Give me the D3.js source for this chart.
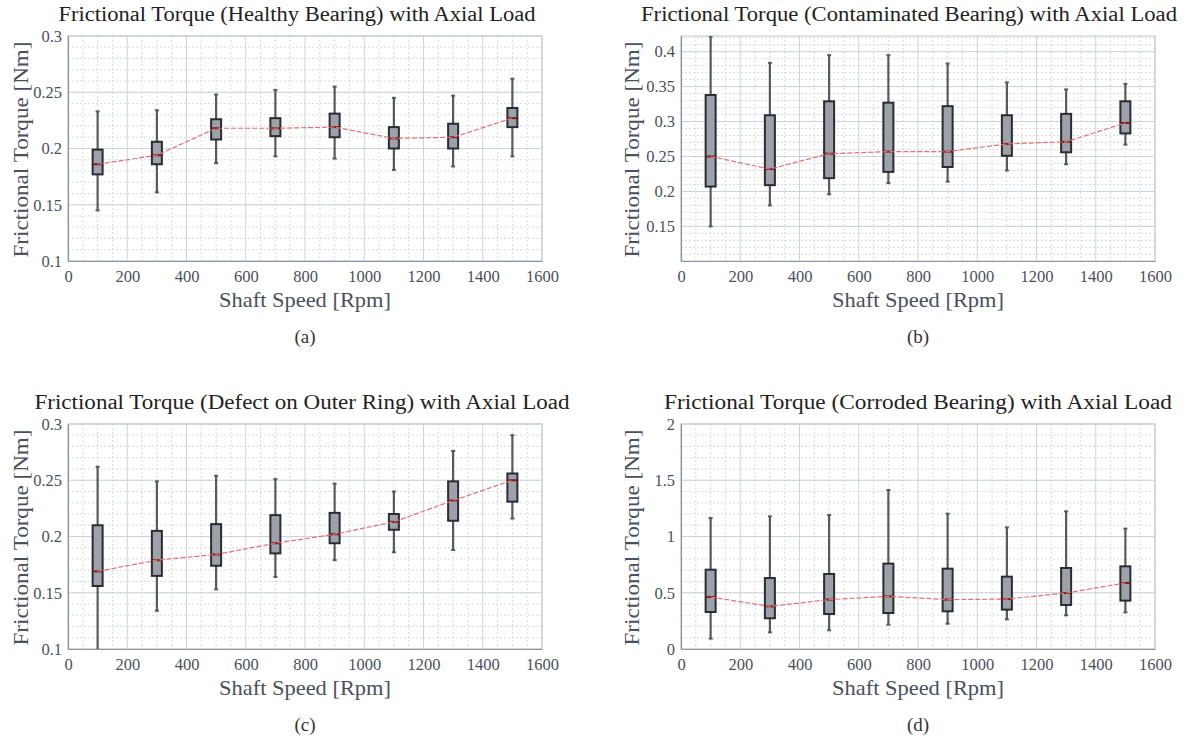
<!DOCTYPE html>
<html>
<head>
<meta charset="utf-8">
<script src="https://cdn.jsdelivr.net/npm/d3@7"></script>
<style>
  body { margin: 0; background: #fff; }
  text { font-family: "Liberation Serif", "Times New Roman", serif; }
</style>
</head>
<body>
<div id="chart"></div>
<script>
// shaft speeds (x positions of the boxes)
var speeds = [100, 300, 500, 700, 900, 1100, 1300, 1500];
var xTicks = [0, 200, 400, 600, 800, 1000, 1200, 1400, 1600];

// box stats per speed: [lower whisker, q1, median, q3, upper whisker]
var healthyStats = [
  [0.145, 0.177, 0.186, 0.199, 0.233],
  [0.161, 0.186, 0.194, 0.206, 0.234],
  [0.187, 0.208, 0.218, 0.226, 0.248],
  [0.193, 0.211, 0.218, 0.227, 0.252],
  [0.191, 0.210, 0.219, 0.231, 0.255],
  [0.181, 0.200, 0.209, 0.219, 0.245],
  [0.184, 0.200, 0.210, 0.222, 0.247],
  [0.193, 0.219, 0.227, 0.236, 0.262]
];
var contaminatedStats = [
  [0.150, 0.207, 0.250, 0.338, 0.422],
  [0.180, 0.209, 0.232, 0.309, 0.384],
  [0.196, 0.219, 0.254, 0.329, 0.395],
  [0.212, 0.228, 0.257, 0.327, 0.395],
  [0.214, 0.235, 0.257, 0.322, 0.383],
  [0.230, 0.251, 0.268, 0.309, 0.356],
  [0.239, 0.256, 0.271, 0.311, 0.346],
  [0.267, 0.283, 0.298, 0.329, 0.354]
];
var outerRingStats = [
  [0.095, 0.156, 0.169, 0.210, 0.262],
  [0.134, 0.165, 0.179, 0.205, 0.249],
  [0.153, 0.174, 0.184, 0.211, 0.254],
  [0.164, 0.185, 0.194, 0.219, 0.251],
  [0.179, 0.194, 0.202, 0.221, 0.247],
  [0.186, 0.206, 0.213, 0.220, 0.240],
  [0.188, 0.214, 0.232, 0.249, 0.276],
  [0.216, 0.231, 0.250, 0.256, 0.290]
];
var corrodedStats = [
  [0.092, 0.329, 0.462, 0.705, 1.164],
  [0.148, 0.273, 0.379, 0.631, 1.179],
  [0.166, 0.311, 0.439, 0.667, 1.191],
  [0.216, 0.320, 0.468, 0.759, 1.413],
  [0.225, 0.335, 0.439, 0.714, 1.203],
  [0.264, 0.350, 0.444, 0.643, 1.081],
  [0.300, 0.391, 0.498, 0.720, 1.224],
  [0.326, 0.430, 0.587, 0.735, 1.070]
];

var yTicksA = [0.1, 0.15, 0.2, 0.25, 0.3];
var yTicksB = [0.15, 0.2, 0.25, 0.3, 0.35, 0.4];
var yTicksC = [0.1, 0.15, 0.2, 0.25, 0.3];
var yTicksD = [0, 0.5, 1, 1.5, 2];

var svg = d3.select("#chart")
  .append("svg")
    .attr("width", 1203)
    .attr("height", 736);

function drawPanel(p) {
  var width = 474, height = 225;
  var g = svg.append("g")
    .attr("transform", "translate(" + p.left + "," + p.top + ")");

  var x = d3.scaleLinear().domain([0, 1600]).range([0, width]);
  var y = d3.scaleLinear().domain(p.yDomain).range([height, 0]);

  // minor grid (dotted)
  g.append("g").selectAll("line")
    .data(d3.range(50, 1600, 50).filter(function(v) { return v % 200 != 0; }))
    .enter().append("line")
      .attr("x1", function(d) { return x(d); })
      .attr("x2", function(d) { return x(d); })
      .attr("y1", 0).attr("y2", height)
      .style("stroke", "#d6dae3")
      .style("stroke-dasharray", "2,2");
  var yMinor = d3.range(Math.ceil(p.yDomain[0] / p.minorStep - 1e-6), Math.floor(p.yDomain[1] / p.minorStep + 1e-6) + 1)
    .map(function(k) { return k * p.minorStep; });
  g.append("g").selectAll("line")
    .data(yMinor)
    .enter().append("line")
      .attr("x1", 0).attr("x2", width)
      .attr("y1", function(d) { return y(d); })
      .attr("y2", function(d) { return y(d); })
      .style("stroke", "#d6dae3")
      .style("stroke-dasharray", "2,2");

  // major grid
  g.append("g").selectAll("line")
    .data(xTicks)
    .enter().append("line")
      .attr("x1", function(d) { return x(d); })
      .attr("x2", function(d) { return x(d); })
      .attr("y1", 0).attr("y2", height)
      .style("stroke", "#cdd2dc");
  g.append("g").selectAll("line")
    .data(p.yTicks)
    .enter().append("line")
      .attr("x1", 0).attr("x2", width)
      .attr("y1", function(d) { return y(d); })
      .attr("y2", function(d) { return y(d); })
      .style("stroke", "#cdd2dc");

  // frame
  g.append("rect")
    .attr("width", width).attr("height", height)
    .style("fill", "none").style("stroke", "#c3c8d2");

  // axes
  var xAxis = g.append("g")
    .attr("transform", "translate(0," + height + ")")
    .call(d3.axisBottom(x).tickValues(xTicks).tickSize(0).tickPadding(9)
      .tickFormat(d3.format("d")));
  var yAxis = g.append("g")
    .call(d3.axisLeft(y).tickValues(p.yTicks).tickSize(0).tickPadding(6)
      .tickFormat(function(d) { return String(+d.toFixed(2)); }));
  [xAxis, yAxis].forEach(function(a) {
    a.attr("font-family", null);
    a.select(".domain").style("stroke", "#8e95a3").style("stroke-width", 1.2);
    a.selectAll("text")
      .style("font-family", "'Liberation Serif', serif")
      .style("font-size", "16.5px")
      .style("fill", "#4a505c");
  });

  var clip = "clip-" + p.tag;
  g.append("clipPath").attr("id", clip)
    .append("rect").attr("width", width).attr("height", height);
  var plot = g.append("g").attr("clip-path", "url(#" + clip + ")");

  var bw = 10, cap = 3;
  var boxes = plot.selectAll(".box")
    .data(p.stats)
    .enter().append("g")
      .attr("class", "box")
      .attr("transform", function(d, i) { return "translate(" + x(speeds[i]) + ",0)"; });

  boxes.append("line")
    .attr("y1", function(d) { return y(d[0]); })
    .attr("y2", function(d) { return y(d[4]); })
    .style("stroke", "#555a62").style("stroke-width", 2.2);
  boxes.append("line")
    .attr("x1", -cap / 2 - 0.5).attr("x2", cap / 2 + 0.5)
    .attr("y1", function(d) { return y(d[0]); })
    .attr("y2", function(d) { return y(d[0]); })
    .style("stroke", "#555a62").style("stroke-width", 2);
  boxes.append("line")
    .attr("x1", -cap / 2 - 0.5).attr("x2", cap / 2 + 0.5)
    .attr("y1", function(d) { return y(d[4]); })
    .attr("y2", function(d) { return y(d[4]); })
    .style("stroke", "#555a62").style("stroke-width", 2);
  boxes.append("rect")
    .attr("x", -bw / 2).attr("width", bw)
    .attr("y", function(d) { return y(d[3]); })
    .attr("height", function(d) { return y(d[1]) - y(d[3]); })
    .style("fill", "#9da1a9")
    .style("stroke", "#2a2c31").style("stroke-width", 2);

  // median trend
  var line = d3.line()
    .x(function(d, i) { return x(speeds[i]); })
    .y(function(d) { return y(d[2]); });
  plot.append("path")
    .datum(p.stats)
    .attr("d", line)
    .style("fill", "none")
    .style("stroke", "#e07272")
    .style("stroke-width", 1.2)
    .style("stroke-dasharray", "5,2");

  boxes.append("line")
    .attr("x1", -bw / 2).attr("x2", bw / 2)
    .attr("y1", function(d) { return y(d[2]); })
    .attr("y2", function(d) { return y(d[2]); })
    .style("stroke", "#7a1f22").style("stroke-width", 2);

  // titles and labels
  g.append("text")
    .attr("x", p.titleX).attr("y", -15)
    .attr("text-anchor", "middle")
    .attr("textLength", p.titleLen)
    .attr("lengthAdjust", "spacingAndGlyphs")
    .style("font-size", "20px")
    .style("fill", "#222")
    .text(p.title);
  g.append("text")
    .attr("x", width / 2).attr("y", height + 46)
    .attr("text-anchor", "middle")
    .attr("textLength", 172)
    .attr("lengthAdjust", "spacingAndGlyphs")
    .style("font-size", "21px")
    .style("fill", "#4a505c")
    .text("Shaft Speed [Rpm]");
  g.append("text")
    .attr("transform", "translate(" + p.ylabX + "," + (height / 2 + 1) + ") rotate(-90)")
    .attr("text-anchor", "middle")
    .attr("textLength", 216)
    .attr("lengthAdjust", "spacingAndGlyphs")
    .style("font-size", "21px")
    .style("fill", "#4a505c")
    .text("Frictional Torque [Nm]");
  g.append("text")
    .attr("x", width / 2).attr("y", height + 82)
    .attr("text-anchor", "middle")
    .style("font-size", "19px")
    .style("fill", "#333")
    .text("(" + p.tag + ")");
}

drawPanel({tag: "a", left: 68, top: 36, yDomain: [0.1, 0.3], yTicks: yTicksA, minorStep: 0.01,
  stats: healthyStats, ylabX: -40, titleX: 229, titleLen: 477,
  title: "Frictional Torque (Healthy Bearing) with Axial Load"});
drawPanel({tag: "b", left: 681, top: 36, yDomain: [0.1005, 0.4224], yTicks: yTicksB, minorStep: 0.01,
  stats: contaminatedStats, ylabX: -42, titleX: 228, titleLen: 536,
  title: "Frictional Torque (Contaminated Bearing) with Axial Load"});
drawPanel({tag: "c", left: 68, top: 424, yDomain: [0.1, 0.3], yTicks: yTicksC, minorStep: 0.01,
  stats: outerRingStats, ylabX: -40, titleX: 234, titleLen: 535,
  title: "Frictional Torque (Defect on Outer Ring) with Axial Load"});
drawPanel({tag: "d", left: 681, top: 424, yDomain: [0, 2], yTicks: yTicksD, minorStep: 0.1,
  stats: corrodedStats, ylabX: -42, titleX: 237, titleLen: 508,
  title: "Frictional Torque (Corroded Bearing) with Axial Load"});
</script>
</body>
</html>
